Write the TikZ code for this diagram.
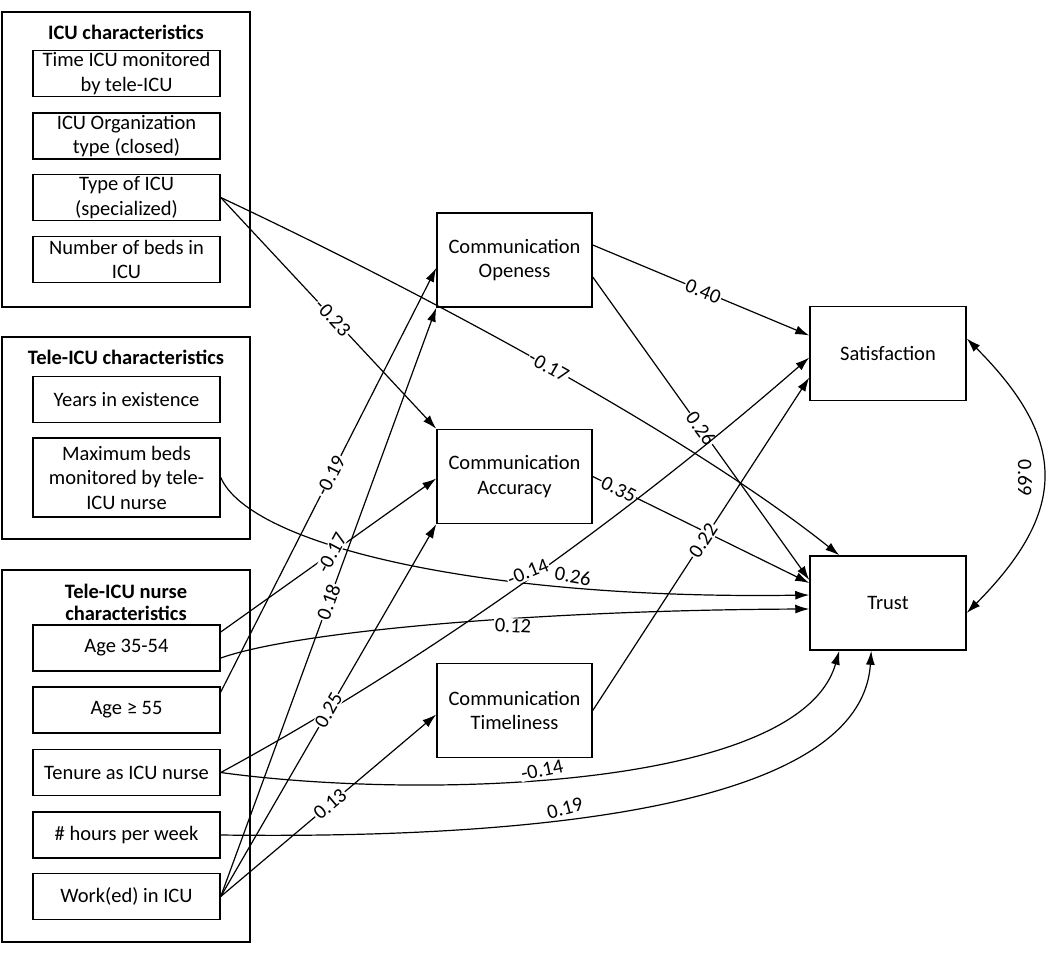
\documentclass[tikz,border=0pt]{standalone}
\usepackage{fontspec}
\setmainfont{Carlito}
\usetikzlibrary{arrows.meta,calc}
\begin{document}
\begin{tikzpicture}[x=1pt,y=-1pt,
  box/.style={draw, line width=1.5pt, align=center, inner sep=0pt, font=\fontsize{20.5}{24.5}\selectfont},
  grp/.style={draw, line width=1.5pt, inner sep=0pt},
  ttl/.style={font=\bfseries\fontsize{20.5}{21.5}\selectfont, align=center, inner sep=0pt},
  ib/.style={box, minimum width=187pt, minimum height=46pt},
  mb/.style={box, minimum width=155pt, minimum height=94pt},
  ob/.style={box, minimum width=156pt, minimum height=94pt},
  conn/.style={line width=1.2pt, -{Latex[length=14pt,width=9pt]}},
  lbl/.style={fill=white, inner sep=1pt, font=\fontsize{20.5}{24}\selectfont},
]
\useasboundingbox (0,0) rectangle (1050,953);
% groups
\node[grp, minimum width=248pt, minimum height=295pt] (g1) at (126,159.5) {};
\node[grp, minimum width=248pt, minimum height=202pt] (g2) at (126,438) {};
\node[grp, minimum width=248pt, minimum height=372pt] (g3) at (126,756) {};
\node[ttl] (t1) at (126,32) {ICU characteristics};
\node[ttl] (t2) at (126,357) {Tele-ICU characteristics};
\node[ttl] (t3) at (126,602.5) {Tele-ICU nurse\\characteristics};
% inner boxes
\node[ib] (time) at (126.5,73.5) {Time ICU monitored\\by tele-ICU};
\node[ib] (org) at (126.5,136) {ICU Organization\\type (closed)};
\node[ib] (type) at (126.5,197.5) {Type of ICU\\(specialized)};
\node[ib] (beds) at (126.5,259.5) {Number of beds in\\ICU};
\node[ib] (years) at (126.5,399.5) {Years in existence};
\node[ib, minimum height=79pt] (maxb) at (126.5,477.5) {Maximum beds\\monitored by tele-\\ICU nurse};
\node[ib] (age35) at (126.5,648) {Age 35-54};
\node[ib] (age55) at (126.5,710) {Age ≥ 55};
\node[ib] (tenure) at (126.5,772.5) {Tenure as ICU nurse};
\node[ib] (hours) at (126.5,835) {\# hours per week};
\node[ib] (work) at (126.5,896.5) {Work(ed) in ICU};
% mediators
\node[mb] (open) at (514.5,260) {Communication\\Openess};
\node[mb] (acc) at (514.5,476.5) {Communication\\Accuracy};
\node[mb] (tml) at (514.5,710.5) {Communication\\Timeliness};
% outcomes
\node[ob] (sat) at (888,353.5) {Satisfaction};
\node[ob] (trust) at (888,603) {Trust};
% connectors
\draw[conn] (type.east) -- node[lbl, sloped, pos=0.52]{-0.23} (acc.north west);
\draw[conn] (type.east) .. controls (420,291) and (690,436) .. node[lbl, sloped, pos=0.5]{-0.17} ([xshift=30pt]trust.north west);
\draw[conn] ([yshift=15pt]open.east) -- node[lbl, sloped, pos=0.51]{0.40} ([yshift=18pt]sat.west);
\draw[conn] ([yshift=-17pt]open.east) -- node[lbl, sloped, pos=0.5]{0.26} ([yshift=23pt]trust.west);
\draw[conn] (acc.east) -- node[lbl, sloped, pos=0.12]{0.35} ([yshift=20pt]trust.west);
\draw[conn] (tml.east) -- node[lbl, sloped, pos=0.51]{0.22} ([yshift=-24pt]sat.west);
\draw[conn] (tenure.east) .. controls (470,637) and (678,472) .. ([yshift=-4pt]sat.west);
\draw[conn] (maxb.east) .. controls (250,545) and (480,600) .. ([yshift=8pt]trust.west);
\draw[conn] ([yshift=-10pt]age35.east) .. controls (300,630) and (550,610) .. ([yshift=-6pt]trust.west);
\draw[conn] ([yshift=16pt]age35.east) -- node[lbl, pos=0.516, rotate=62]{-0.17} ([yshift=-2pt]acc.west);
\draw[conn] ([yshift=18pt]age55.east) -- node[lbl, sloped, pos=0.51]{-0.19} ([yshift=-8pt]open.west);
\draw[conn] (work.east) -- node[lbl, sloped, pos=0.5]{0.18} (open.south west);
\draw[conn] (work.east) -- node[lbl, sloped, pos=0.5]{0.25} (acc.south west);
\draw[conn] (work.east) -- node[lbl, sloped, pos=0.507]{0.13} ([yshift=-4pt]tml.west);
\draw[conn] (tenure.east) .. controls (420,800) and (800,790) .. ([xshift=30pt]trust.south west);
\draw[conn] (hours.east) .. controls (450,838) and (860,825) .. ([xshift=62pt]trust.south west);
\draw[line width=1.2pt, {Latex[length=14pt,width=9pt]}-{Latex[length=14pt,width=9pt]}] ([yshift=15pt]sat.east) .. controls (1068,440) and (1068,511) .. ([yshift=-10pt]trust.east);
% free-standing labels
\node[lbl, rotate=-3] (l12) at (513,626) {0.12};
\node[lbl, rotate=22] (l13) at (528,572) {-0.14};
\node[lbl, rotate=-10] (l14) at (573,576) {0.26};
\node[lbl, rotate=12] (l15) at (542,770) {-0.14};
\node[lbl, rotate=15] (l16) at (565,808) {0.19};
\node[inner sep=1pt, rotate=-90, font=\fontsize{20.5}{24}\selectfont] (l17) at (1025,478) {0.69};
\end{tikzpicture}
\end{document}
